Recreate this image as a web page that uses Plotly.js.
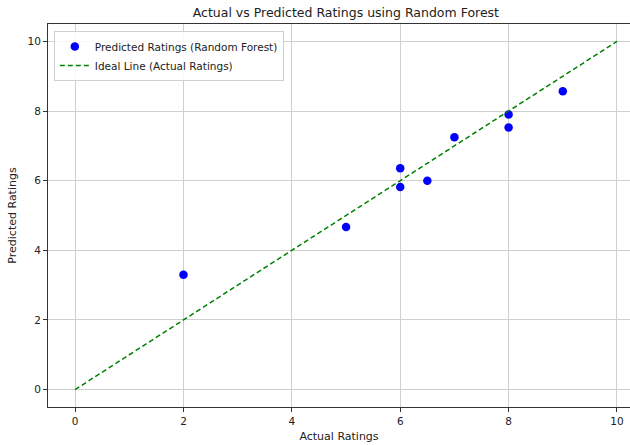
<!DOCTYPE html>
<html>
<head>
<meta charset="utf-8">
<script src="https://cdn.plot.ly/plotly-3.0.1.min.js"></script>
<style>html,body{margin:0;padding:0;background:#fff;overflow:hidden}#chart{width:630px;height:445px}</style>
</head>
<body>
<div id="chart"></div>
<script>
const actualRatings = [2, 5, 6, 6, 6.5, 7, 8, 8, 9];
const predictedRatings = [3.3, 4.67, 6.36, 5.82, 6.0, 7.25, 7.9, 7.53, 8.57];
const idealX = [0, 10];
const idealY = [0, 10];
const xTicks = [0, 2, 4, 6, 8, 10];
const yTicks = [0, 2, 4, 6, 8, 10];

const font = 'DejaVu Sans, sans-serif';
const traces = [
  {
    x: actualRatings, y: predictedRatings, type: 'scatter', mode: 'markers',
    name: 'Predicted Ratings (Random Forest)',
    marker: {color: '#0000ff', size: 8.5}
  },
  {
    x: idealX, y: idealY, type: 'scatter', mode: 'lines',
    name: 'Ideal Line (Actual Ratings)',
    line: {color: '#008000', width: 1.5, dash: '5px,3px'}
  }
];
const axisCommon = {
  showline: true, linecolor: '#333', linewidth: 1, mirror: true,
  ticks: 'outside', ticklen: 4, tickcolor: '#333', tickwidth: 1,
  showgrid: true, gridcolor: '#cfcfcf', gridwidth: 1,
  zeroline: false, tickfont: {family: font, size: 10.5, color: '#222'}
};
const layout = {
  width: 630, height: 445,
  margin: {l: 48, r: 0, t: 24, b: 38},
  paper_bgcolor: '#fff', plot_bgcolor: '#fff',
  font: {family: font, color: '#222'},
  title: {text: 'Actual vs Predicted Ratings using Random Forest', font: {family: font, size: 12.5, color: '#222'},
          xref: 'container', x: 0.549, xanchor: 'center', yref: 'container', y: 0.972, yanchor: 'middle'},
  xaxis: Object.assign({}, axisCommon, {range: [-0.5, 10.24], tickvals: xTicks,
          title: {text: 'Actual Ratings', font: {family: font, size: 11, color: '#222'}, standoff: 6}}),
  yaxis: Object.assign({}, axisCommon, {range: [-0.5, 10.5], tickvals: yTicks,
          title: {text: 'Predicted Ratings', font: {family: font, size: 11, color: '#222'}, standoff: 8}}),
  showlegend: true,
  legend: {x: 0.01, y: 0.982, xanchor: 'left', yanchor: 'top', bgcolor: 'rgba(255,255,255,0.85)',
           bordercolor: '#d0d0d0', borderwidth: 1, font: {family: font, size: 10.5, color: '#222'},
           itemwidth: 30, tracegroupgap: 0}
};
Plotly.newPlot('chart', traces, layout, {displayModeBar: false, staticPlot: true});
</script>
</body>
</html>
